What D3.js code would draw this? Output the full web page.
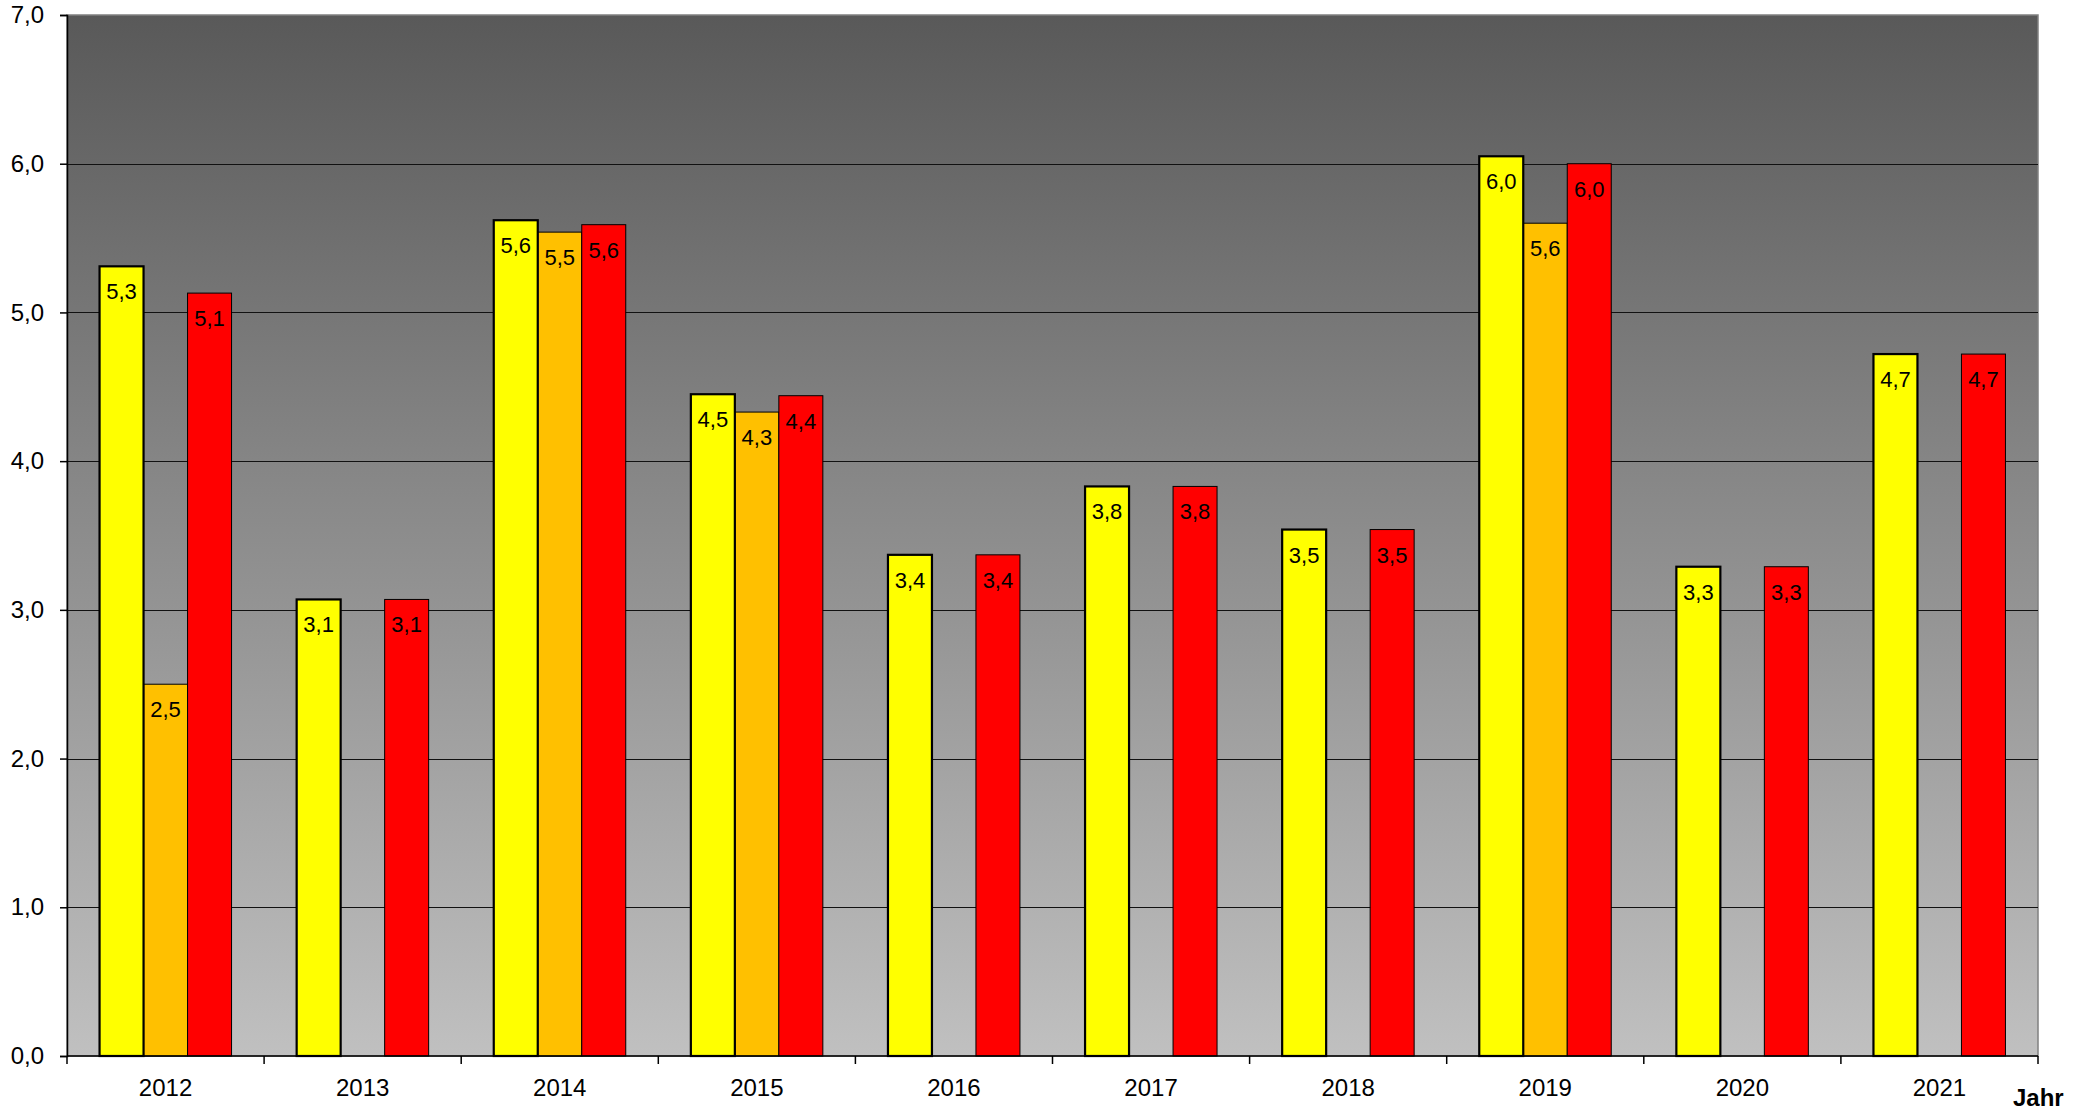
<!DOCTYPE html>
<html>
<head>
<meta charset="utf-8">
<script src="https://cdn.jsdelivr.net/npm/d3@7"></script>
<style>
  body { margin: 0; background: #fff; }
  text { font-family: "Liberation Sans", Arial, sans-serif; }
</style>
</head>
<body>
<svg id="svg" width="2088" height="1110"></svg>
<script>
// Daten
var years = ['2012', '2013', '2014', '2015', '2016', '2017', '2018', '2019', '2020', '2021']
var seriesNames = ['gelb', 'orange', 'rot']
var gelb = [5.31, 3.07, 5.62, 4.45, 3.37, 3.83, 3.54, 6.05, 3.29, 4.72]
var orange = [2.50, null, 5.54, 4.33, null, null, null, 5.60, null, null]
var rot = [5.13, 3.07, 5.59, 4.44, 3.37, 3.83, 3.54, 6.00, 3.29, 4.72]
var yTicks = [0, 1, 2, 3, 4, 5, 6, 7]

var svg = d3.select("svg"),
    margin = {top: 15, right: 50, bottom: 54, left: 67},
    width = 2088 - margin.left - margin.right,
    height = 1110 - margin.top - margin.bottom

var colors = {gelb: '#ffff00', orange: '#ffc000', rot: '#ff0000'}
var strokeW = {gelb: 2.2, orange: 1, rot: 1}

var x0 = d3.scaleBand().domain(years).range([0, width]).padding(0)
var x1 = d3.scaleBand().domain(seriesNames).range([0, x0.bandwidth()]).paddingInner(0).paddingOuter(0.74)
var y = d3.scaleLinear().domain([0, 7]).range([height, 0])

var fmt = function(v) { return d3.format(".1f")(v).replace('.', ',') }

// Hintergrund-Verlauf
var defs = svg.append("defs")
var grad = defs.append("linearGradient").attr("id", "bg").attr("x1", 0).attr("y1", 0).attr("x2", 0).attr("y2", 1)
grad.append("stop").attr("offset", "0%").attr("stop-color", "#595959")
grad.append("stop").attr("offset", "100%").attr("stop-color", "#c0c0c0")

var g = svg.append("g").attr("transform", "translate(" + margin.left + "," + margin.top + ")")

g.append("rect")
  .attr("width", width)
  .attr("height", height)
  .attr("fill", "url(#bg)")
  .attr("stroke", "#808080")
  .attr("stroke-width", 1.5)

// Gitterlinien
g.append("g")
  .selectAll("line")
  .data(yTicks.filter(function(d) { return d > 0 && d < 7 }))
  .enter().append("line")
  .attr("x1", 0)
  .attr("x2", width)
  .attr("y1", function(d) { return Math.round(y(d)) + 0.5 })
  .attr("y2", function(d) { return Math.round(y(d)) + 0.5 })
  .attr("stroke", "#111")
  .attr("stroke-width", 1.2)

// Balken
var rows = years.map(function(yr, i) {
  return {year: yr, values: [
    {key: 'gelb', value: gelb[i]},
    {key: 'orange', value: orange[i]},
    {key: 'rot', value: rot[i]}
  ].filter(function(d) { return d.value != null })}
})

var groups = g.append("g")
  .selectAll("g")
  .data(rows)
  .enter().append("g")
  .attr("transform", function(d) { return "translate(" + x0(d.year) + ",0)" })

// gelb zuletzt zeichnen, damit der dicke Rand oben liegt
groups.selectAll("rect")
  .data(function(d) { return d.values.slice().sort(function(a, b) { return a.key == 'gelb' ? 1 : b.key == 'gelb' ? -1 : 0 }) })
  .enter().append("rect")
  .attr("x", function(d) { return x1(d.key) })
  .attr("y", function(d) { return y(d.value) })
  .attr("width", x1.bandwidth())
  .attr("height", function(d) { return height - y(d.value) })
  .attr("fill", function(d) { return colors[d.key] })
  .attr("stroke", "#000")
  .attr("stroke-width", function(d) { return strokeW[d.key] })

groups.selectAll("text")
  .data(function(d) { return d.values })
  .enter().append("text")
  .attr("x", function(d) { return x1(d.key) + x1.bandwidth() / 2 })
  .attr("y", function(d) { return y(d.value) + 33 })
  .attr("text-anchor", "middle")
  .attr("font-size", "22px")
  .attr("fill", "#000")
  .text(function(d) { return fmt(d.value) })

// Y-Achse
var yAxis = g.append("g")
  .call(d3.axisLeft(y).tickValues(yTicks).tickSize(7).tickPadding(16).tickFormat(fmt))
yAxis.select(".domain").attr("stroke", "#000").attr("stroke-width", 1.5)
yAxis.selectAll(".tick line").attr("stroke", "#000").attr("stroke-width", 1.5)
yAxis.selectAll("text").attr("font-size", "24px").attr("fill", "#000")
  .style("font-family", '"Liberation Sans", Arial, sans-serif')

// X-Achse
var xAxis = g.append("g").attr("transform", "translate(0," + height + ")")
xAxis.append("line").attr("x1", 0).attr("x2", width).attr("stroke", "#000").attr("stroke-width", 1.5)
var bounds = years.map(function(d) { return x0(d) }).concat([width])
xAxis.selectAll(".bt")
  .data(bounds)
  .enter().append("line")
  .attr("class", "bt")
  .attr("x1", function(d) { return d })
  .attr("x2", function(d) { return d })
  .attr("y1", 0)
  .attr("y2", 8)
  .attr("stroke", "#000")
  .attr("stroke-width", 1.5)
xAxis.selectAll(".yl")
  .data(years)
  .enter().append("text")
  .attr("class", "yl")
  .attr("x", function(d) { return x0(d) + x0.bandwidth() / 2 })
  .attr("y", 40)
  .attr("text-anchor", "middle")
  .attr("font-size", "24px")
  .text(function(d) { return d })

svg.append("text")
  .attr("x", 2013)
  .attr("y", 1106)
  .attr("font-size", "24px")
  .attr("font-weight", "bold")
  .text("Jahr")
</script>
</body>
</html>
